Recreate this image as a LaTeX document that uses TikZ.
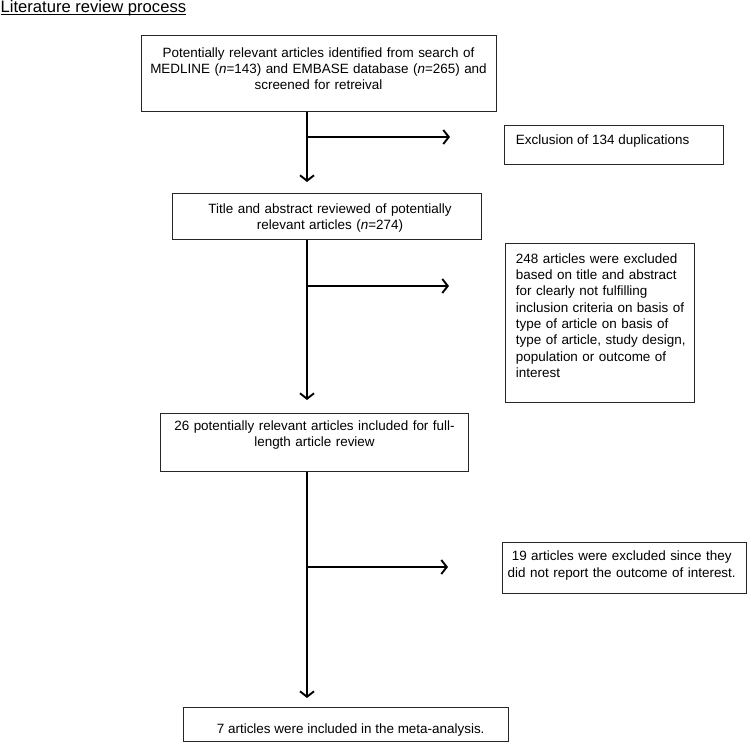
\documentclass[tikz,border=0pt]{standalone}
\usepackage{fontspec}
\setmainfont{Liberation Sans}
\usetikzlibrary{arrows.meta}
\begin{document}
\begin{tikzpicture}[x=1pt,y=-1pt,
  box/.style={draw=black!85, line width=1.2pt, inner sep=0pt, anchor=north west},
  txt/.style={inner sep=0pt, font=\fontsize{13.45}{16.3}\selectfont},
  arr/.style={line width=1.9pt, -{Straight Barb[length=5.5pt,width=14pt,line width=1.9pt]}},
  ttl/.style={inner sep=0pt, anchor=base west, font=\fontsize{16.6}{19}\selectfont}]
\useasboundingbox (0,0) rectangle (751,746);

% title
\node[ttl] (title) at (0.5,13) {Literature review process};
\draw[line width=1pt] ([yshift=-2pt]title.base west) -- ([yshift=-2pt]title.base east);

% boxes
\node[box, minimum width=355pt, minimum height=76pt] (B1) at (141,35) {};
\node[box, minimum width=219pt, minimum height=39pt] (BX) at (504,125) {};
\node[box, minimum width=309pt, minimum height=46pt] (B2) at (172,193) {};
\node[box, minimum width=189pt, minimum height=159pt] (B3) at (505,243) {};
\node[box, minimum width=308pt, minimum height=58pt] (B4) at (160,413) {};
\node[box, minimum width=244pt, minimum height=51pt] (B5) at (502,542) {};
\node[box, minimum width=325pt, minimum height=34pt] (B6) at (183,707) {};

% texts
\node[txt, text width=360pt, align=center, anchor=base] (T1) at (318.5,57.3)
  {Potentially relevant articles identified from search of\\
   MEDLINE (\textit{n}=143) and EMBASE database (\textit{n}=265) and\\
   screened for retreival};
\node[txt, anchor=base west] (TX) at (515.7,145) {Exclusion of 134 duplications};
\node[txt, text width=300pt, align=center, anchor=base] (T2) at (330,213.3)
  {Title and abstract reviewed of potentially\\
   relevant articles (\textit{n}=274)};
\node[txt, text width=180pt, align=left, anchor=base west] (T3) at (515.7,263.3)
  {248 articles were excluded\\
   based on title and abstract\\
   for clearly not fulfilling\\
   inclusion criteria on basis of\\
   type of article on basis of\\
   type of article, study design,\\
   population or outcome of\\
   interest};
\node[txt, text width=300pt, align=center, anchor=base] (T4) at (314.5,430)
  {26 potentially relevant articles included for full-\\
   length article review};
\node[txt, text width=240pt, align=center, anchor=base] (T5) at (621.7,560.7)
  {19 articles were excluded since they\\
   did not report the outcome of interest.};
\node[txt, anchor=base] (T6) at (350.7,733.3) {7 articles were included in the meta-analysis.};

% trunk junctions and free ends
\coordinate (J1) at (307,137);
\coordinate (J2) at (307,286);
\coordinate (J3) at (307,567);
\coordinate (E1) at (450,137);
\coordinate (E2) at (449,286);
\coordinate (E3) at (448,567);

% connectors
\draw[arr, shorten >=11pt] (B1.south -| J1) -- (B2.north -| J1);
\draw[arr, shorten >=13pt] (B2.south -| J2) -- (B4.north -| J2);
\draw[arr, shorten >=9pt] (B4.south -| J3) -- (B6.north -| J3);
\draw[arr] (J1) -- (E1);
\draw[arr] (J2) -- (E2);
\draw[arr] (J3) -- (E3);
\end{tikzpicture}
\end{document}
